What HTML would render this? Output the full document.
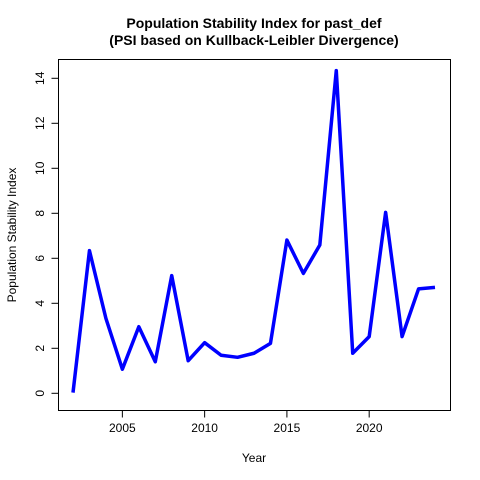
<!DOCTYPE html>
<html><head><meta charset="utf-8"><style>body{margin:0;background:#fff}svg{display:block}text{font-family:"Liberation Sans",Arial,sans-serif;fill:#000}</style></head>
<body>
<svg id="c" width="480" height="480">
<text x="254" y="28" text-anchor="middle" font-size="14" font-weight="bold">Population Stability Index for past_def</text>
<text x="254" y="45" text-anchor="middle" font-size="14" font-weight="bold">(PSI based on Kullback-Leibler Divergence)</text>
<rect x="58.5" y="59.5" width="392" height="351" fill="none" stroke="#000"/>
<text x="254" y="462" text-anchor="middle" font-size="12">Year</text>
<text transform="translate(16,235) rotate(-90)" text-anchor="middle" font-size="12">Population Stability Index</text>
<g id="ax"></g>
</svg>
<script>
const years=[2002,2003,2004,2005,2006,2007,2008,2009,2010,2011,2012,2013,2014,2015,2016,2017,2018,2019,2020,2021,2022,2023,2024];
const psi=[0.03,6.34,3.33,1.07,2.96,1.40,5.23,1.45,2.25,1.69,1.60,1.78,2.22,6.81,5.33,6.59,14.34,1.78,2.52,8.04,2.52,4.64,4.71];
const xTicks=[2005,2010,2015,2020];
const yTicks=[0,2,4,6,8,10,12,14];
const X=v=>73+(v-2002)*(362/22);
const Y=v=>393.3-v*22.5;
const g=document.getElementById('ax');const NS='http://www.w3.org/2000/svg';
function mk(t,a){const e=document.createElementNS(NS,t);for(const k in a)e.setAttribute(k,a[k]);g.appendChild(e);return e;}
const xl=mk('line',{x1:X(xTicks[0]),x2:X(xTicks[xTicks.length-1]),y1:410.5,y2:410.5,stroke:'#000'});


xTicks.forEach(t=>{const l=mk('line',{x1:X(t),x2:X(t),y1:410.5,y2:417.5,stroke:'#000'});


const tx=mk('text',{x:X(t),y:432,'text-anchor':'middle','font-size':12});tx.textContent=t;

});
const yl=mk('line',{x1:58.5,x2:58.5,y1:Y(yTicks[0]),y2:Y(yTicks[yTicks.length-1]),stroke:'#000'});


yTicks.forEach(t=>{const l=mk('line',{x1:51.5,x2:58.5,y1:Y(t),y2:Y(t),stroke:'#000'});


const tx=mk('text',{transform:`translate(44,${Y(t)}) rotate(-90)`,'text-anchor':'middle','font-size':12});tx.textContent=t;

});
const p=mk('polyline',{points:years.map((y,i)=>X(y)+','+Y(psi[i])).join(' '),fill:'none',stroke:'#0000ff','stroke-width':3.5,'stroke-linejoin':'round'});


</script>
</body></html>
